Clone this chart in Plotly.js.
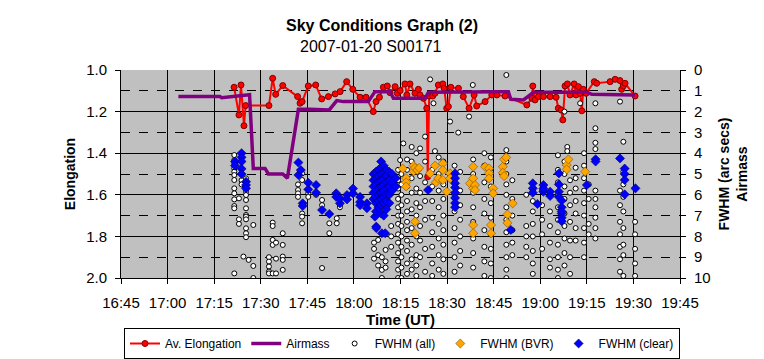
<!DOCTYPE html>
<html><head><meta charset="utf-8">
<script src="https://cdn.plot.ly/plotly-3.0.1.min.js"></script>
<style>html,body{margin:0;padding:0;background:#fff}</style>
</head><body><div id="chart" style="width:764px;height:359px"></div>
<script>
// time in decimal hours (UT)
const tickVals = [16.75,17,17.25,17.5,17.75,18,18.25,18.5,18.75,19,19.25,19.5,19.75];
const tickLabels = ["16:45","17:00","17:15","17:30","17:45","18:00","18:15","18:30","18:45","19:00","19:15","19:30","19:45"];
const elongTicks = [1.0,1.2,1.4,1.6,1.8,2.0];
const elongTickLabels = ["1.0","1.2","1.4","1.6","1.8","2.0"];
const fwhmTicks = [0,1,2,3,4,5,6,7,8,9,10];

const airTime = [17.058,17.281,17.290,17.44,17.46,17.523,17.541,17.618,17.643,17.702,17.764,17.868,17.908,17.944,18.077,18.113,18.194,18.212,18.382,18.400,18.784,18.829,18.842,18.874,18.910,18.964,19.250,19.277,19.428,19.509];
const airVal = [1.28,1.28,1.33,1.19,4.73,4.73,5.0,5.0,5.2,1.89,1.89,1.92,1.47,1.52,1.52,1.04,1.04,1.36,1.36,1.07,1.04,1.04,1.41,1.44,1.44,1.07,1.07,1.17,1.17,1.2];

const elongTime = [17.357,17.383,17.394,17.410,17.419,17.544,17.564,17.580,17.618,17.698,17.711,17.722,17.755,17.795,17.827,17.863,17.899,17.926,17.961,17.994,18.033,18.065,18.104,18.119,18.137,18.158,18.179,18.194,18.221,18.233,18.248,18.274,18.284,18.301,18.328,18.346,18.355,18.373,18.391,18.396,18.404,18.423,18.435,18.453,18.477,18.484,18.498,18.507,18.520,18.561,18.587,18.618,18.645,18.659,18.704,18.740,18.767,18.811,18.928,18.955,18.960,18.972,18.990,19.017,19.053,19.085,19.097,19.112,19.121,19.133,19.146,19.160,19.182,19.192,19.205,19.214,19.223,19.231,19.246,19.290,19.303,19.375,19.402,19.428,19.437,19.446,19.455,19.509];
const elongVal = [1.083,1.216,1.072,1.268,1.171,1.171,1.040,1.117,1.075,1.128,1.160,1.152,1.077,1.072,1.139,1.128,1.115,1.104,1.056,1.093,1.131,1.131,1.200,1.152,1.131,1.083,1.077,1.109,1.080,1.112,1.099,1.067,1.120,1.067,1.112,1.093,1.120,1.136,1.184,1.513,1.125,1.125,1.112,1.072,1.067,1.088,1.184,1.176,1.083,1.088,1.128,1.184,1.120,1.173,1.152,1.120,1.120,1.125,1.168,1.136,1.077,1.144,1.128,1.128,1.128,1.131,1.184,1.192,1.240,1.077,1.067,1.120,1.067,1.120,1.080,1.112,1.196,1.093,1.112,1.056,1.064,1.056,1.045,1.051,1.093,1.077,1.064,1.125];

const allTime = [17.358,17.383,17.397,17.407,17.421,17.435,17.460,17.544,17.564,17.582,17.618,17.700,17.722,17.755,17.797,17.829,17.868,17.908,17.925,18.108,18.130,18.150,18.170,18.200,18.237,18.248,18.255,18.265,18.285,18.310,18.335,18.355,18.382,18.409,18.420,18.427,18.435,18.455,18.480,18.516,18.540,18.560,18.570,18.618,18.638,18.640,18.700,18.735,18.818,18.850,18.925,18.960,19.010,19.052,19.095,19.130,19.145,19.160,19.190,19.214,19.235,19.260,19.296,19.428,19.446,19.509];
const allVals = [
[4.09,4.33,4.49,4.73,4.89,5.05,5.29,5.69,5.93,6.22,6.54,6.65,9.78],
[6.17,7.18,7.4],
[5.3,5.5],
[8.97],
[5.21,5.53,5.85,6.01,6.25,6.65,6.97,7.05,7.18,7.61,7.85,8.04],
[9.13],
[7.45,9.42,10.0],
[9.0,9.21,9.45,9.69,9.78],
[7.34,7.5,8.17,8.41,9.78],
[8.3,9.07,9.78],
[7.85,8.41,8.97,9.13,9.61],
[5.5,5.77,5.93,6.1],
[4.97,5.29,6.9,7.05,7.37],
[5.93,6.1],
[6.0],
[6.25,6.5,9.52],
[7.37,7.85],
[7.13,7.37],
[6.5,6.6],
[8.3,8.6,9.07],
[8.17,8.9,9.4],
[9.0,9.61,10.0],
[8.65,9.2,9.5],
[7.5,8.0,8.5],
[4.8,5.3,5.7,6.2,6.6,7.0,7.4,7.9,8.3,8.8,9.2,9.6,10.0],
[4.33],
[5.0,5.5,6.0,6.5,7.0,7.5,8.0,8.5,9.0,9.5,10.0],
[3.53],
[4.3,4.8,5.6,6.3,6.8,7.3,7.7,8.2,8.7,9.3,9.8],
[3.7,4.4,5.2,5.9,6.7,7.6,8.4,9.1,9.6],
[4.0,4.9,5.7,6.4,7.0,8.0,8.9,9.4,9.9],
[3.77,5.1,5.9,6.6,7.5,8.2,9.0],
[3.2,4.4,5.4,6.3,7.2,8.6,9.7],
[0.45],
[4.8,5.6,6.3,7.1,7.8,8.5,9.3,9.9],
[1.6],
[3.9],
[4.2,5.0,5.8,6.6,7.4,8.1,8.9,9.6],
[4.4,5.5,6.2,7.0,7.7,8.4,9.1,9.8],
[2.48],
[4.6,5.3,6.0,6.8,7.6,8.3,9.0,9.7],
[3.01],
[4.9,5.8,6.5,7.2,8.0,8.7,9.4],
[2.24],
[0.72],
[4.3,5.0,5.9,6.6,7.3,8.1,8.8,9.5],
[4.0,4.6,5.4,6.2,6.9,7.7,8.5,9.2,9.9],
[4.2,4.9,5.6,6.4,7.1,7.9,8.6,9.3,10.0],
[0.24,3.85,4.4,5.0,5.5,6.0,6.6,7.2,7.8,8.4,9.0,9.6,10.0],
[5.3,6.2,7.0,7.7,8.3,8.9],
[6.0,7.5,8.0,8.5,9.0],
[5.8,6.3,6.8,7.4,8.0,8.7,9.3,9.8],
[5.8,6.5,7.2,7.9,8.6],
[6.0,6.8,7.5,8.3,9.1,9.5],
[4.1,4.8,5.4,6.0,6.6,7.2,7.8,8.4,9.0,9.6,10.0],
[2.0,4.4,5.0,5.6,6.2,6.9,7.5,8.1,8.8,9.4],
[3.7,3.9],
[5.3,5.9,6.5,7.3,8.2,9.0,9.8],
[4.7,5.2,5.7,6.3,6.9,7.6,8.2],
[1.6],
[4.0,4.6,5.2,5.8,6.4,7.0,7.6,8.3,9.0],
[5.5,6.2,7.4,7.9],
[1.6,2.8,3.5,3.8,5.8,6.2,6.6,7.1,7.6,8.1],
[1.52,5.8,6.5,7.3,7.9,8.5,9.1,9.7],
[3.45,4.9,5.5,6.1,6.8,7.6,8.4,8.9,9.9],
[7.3,7.9,8.6,9.3,9.9]
];

const bvrTime = [18.262,18.280,18.320,18.328,18.340,18.350,18.409,18.435,18.440,18.453,18.477,18.498,18.516,18.623,18.640,18.650,18.704,18.725,18.736,18.747,18.799,18.806,18.817,18.824,18.852,19.142,19.151,19.241];
const bvrVals = [[4.74],[5.2,5.4,5.6],[4.6,4.87],[4.71,7.29,7.85],[4.81],[4.71],[4.97],[4.6],[5.4],[5.21],[4.49,4.81,5.29],[5.85],[4.97,5.21],[5.45],[4.65,5.21,5.69,7.45,7.85],[5.53,5.77],[4.65],[4.73,4.97,5.21],[7.45,7.85],[5.69,5.93],[4.65,4.94],[4.29,5.1],[4.2],[6.95,7.35],[6.41],[4.57,4.78],[4.3],[4.89]];

const clearTime = [17.362,17.397,17.421,17.702,17.715,17.725,17.755,17.797,17.829,17.868,17.905,17.925,17.963,17.995,18.033,18.070,18.105,18.113,18.118,18.120,18.132,18.146,18.150,18.160,18.168,18.174,18.190,18.205,18.225,18.398,18.543,18.842,18.960,18.985,19.017,19.053,19.100,19.115,19.250,19.297,19.428,19.453,19.511];
const clearVals = [[4.4,4.6],[4.0,4.2,4.4,4.75,5.0],[5.37,5.53,5.69],[4.45,5.05],[4.81],[6.41,6.54],[5.42,5.74],[5.53,5.9],[6.73],[6.92],[5.93,6.1],[6.41,6.17],[6.01,6.22],[5.7,5.93],[6.1,6.35,6.5],[6.41,6.65],[5.0,5.3,5.6,5.9,6.2],[7.05],[4.9,5.2,5.5,5.8,6.1,6.4,6.8],[7.53,7.6],[4.8,5.1,5.4,5.7,6.0,6.3,6.6],[4.4,4.7,5.0,5.3,5.6,5.9,6.2,6.5,6.9],[7.85],[4.6,4.9,5.2,5.5,5.8,6.1,6.4,7.0],[7.85],[4.8,5.1,5.4,5.7,6.0,6.3,6.7],[4.9,5.3,5.6,6.0,6.4],[5.0,5.4,5.8],[5.2,5.6],[5.77],[4.97,5.2,5.45,5.65,5.9,6.15,6.4,6.6],[7.69],[5.45,5.69,5.9],[6.44],[5.53,5.85,5.7],[5.85,6.06],[4.97,5.5,5.85,6.1],[6.28,6.6,6.9,7.1,7.27,6.8],[5.53],[4.29,4.4],[4.25],[4.74,5.0,5.29,5.98],[5.69]];

function flatten(times, cols){
  const x=[], y=[];
  times.forEach((t,i)=>{ (cols[i]||[]).forEach(v=>{ x.push(t); y.push(v); }); });
  return {x, y};
}
const fAll = flatten(allTime, allVals);
const fBvr = flatten(bvrTime, bvrVals);
const fClear = flatten(clearTime, clearVals);

const FONT = "Liberation Sans, Arial, sans-serif";

const traces = [
  {name:"FWHM (all)", x:fAll.x, y:fAll.y, yaxis:"y2", type:"scatter", mode:"markers",
   marker:{symbol:"circle", size:5, color:"#ffffff", line:{color:"#000000", width:1}}, legendrank:3},
  {name:"FWHM (BVR)", x:fBvr.x, y:fBvr.y, yaxis:"y2", type:"scatter", mode:"markers",
   marker:{symbol:"diamond", size:7, color:"#ffa500", line:{color:"#805000", width:0.6}}, legendrank:4},
  {name:"FWHM (clear)", x:fClear.x, y:fClear.y, yaxis:"y2", type:"scatter", mode:"markers",
   marker:{symbol:"diamond", size:7, color:"#0000ff", line:{color:"#000060", width:0.6}}, legendrank:5},
  {name:"Airmass", x:airTime, y:airVal, yaxis:"y2", type:"scatter", mode:"lines",
   line:{color:"#800080", width:3.5}, legendrank:2},
  {name:"Av. Elongation", x:elongTime, y:elongVal, yaxis:"y", type:"scatter", mode:"lines+markers",
   line:{color:"#ff0000", width:2}, marker:{symbol:"circle", size:6, color:"#ff0000", line:{color:"#800000", width:1}}, legendrank:1}
];

const layout = {
  width:764, height:359,
  margin:{l:121, r:84, t:70, b:81, autoexpand:false},
  paper_bgcolor:"#ffffff", plot_bgcolor:"#c0c0c0",
  font:{family:FONT, size:14, color:"#000"},
  title:{text:"<b>Sky Conditions Graph (2)</b>", xref:"container", x:0.5, xanchor:"center",
    yref:"container", y:1-25/359, yanchor:"middle", font:{family:FONT, size:16, color:"#000"}},
  showlegend:true,
  legend:{orientation:"h", xref:"container", x:124/764, xanchor:"left", yref:"container", y:1-328/359, yanchor:"top",
    bordercolor:"#000", borderwidth:1, bgcolor:"#fff", font:{family:FONT, size:12, color:"#000"},
    traceorder:"normal", itemwidth:30, tracegroupgap:0},
  xaxis:{range:[16.75,19.75], tickmode:"array", tickvals:tickVals, ticktext:tickLabels, automargin:false,
    showgrid:true, gridcolor:"#000", gridwidth:1, zeroline:false,
    showline:true, linecolor:"#000", linewidth:1, ticks:"outside", ticklen:5, tickcolor:"#000",
    ticklabelstandoff:6,
    tickfont:{family:FONT, size:15, color:"#000"},
    title:{text:"<b>Time (UT)</b>", font:{family:FONT, size:15, color:"#000"}, standoff:0}},
  yaxis:{range:[2.0,1.0], tickmode:"array", tickvals:elongTicks, ticktext:elongTickLabels, automargin:false,
    showgrid:false, zeroline:false,
    minor:{tickmode:"array", tickvals:[1.2,1.4,1.6,1.8], showgrid:true, gridcolor:"#000", gridwidth:1, ticks:""},
    showline:true, linecolor:"#000", linewidth:1, ticks:"outside", ticklen:5, tickcolor:"#000",
    ticklabelstandoff:5,
    tickfont:{family:FONT, size:15, color:"#000"},
    title:{text:"<b>Elongation</b>", font:{family:FONT, size:14, color:"#000"}, standoff:7}},
  yaxis2:{overlaying:"y", side:"right", range:[10,0], tickmode:"array", tickvals:fwhmTicks, automargin:false,
    showgrid:false, zeroline:false,
    minor:{tickmode:"array", tickvals:[1,3,5,7,9], showgrid:true, gridcolor:"#000", gridwidth:1, griddash:"dash", ticks:""},
    showline:true, linecolor:"#000", linewidth:1, ticks:"outside", ticklen:5, tickcolor:"#000",
    ticklabelstandoff:5,
    tickfont:{family:FONT, size:15, color:"#000"},
    title:{text:"<b>FWHM (arc secs)<br>Airmass</b>", font:{family:FONT, size:14, color:"#000"}, standoff:9}},
  annotations:[{text:"2007-01-20 S00171", xref:"paper", yref:"paper", x:(371-121)/559, y:(359-47-81)/208, xanchor:"center", yanchor:"middle",
    showarrow:false, font:{family:FONT, size:16, color:"#000"}}],
  hovermode:false
};

Plotly.newPlot("chart", traces, layout, {staticPlot:true, displayModeBar:false});
</script>
</body></html>
